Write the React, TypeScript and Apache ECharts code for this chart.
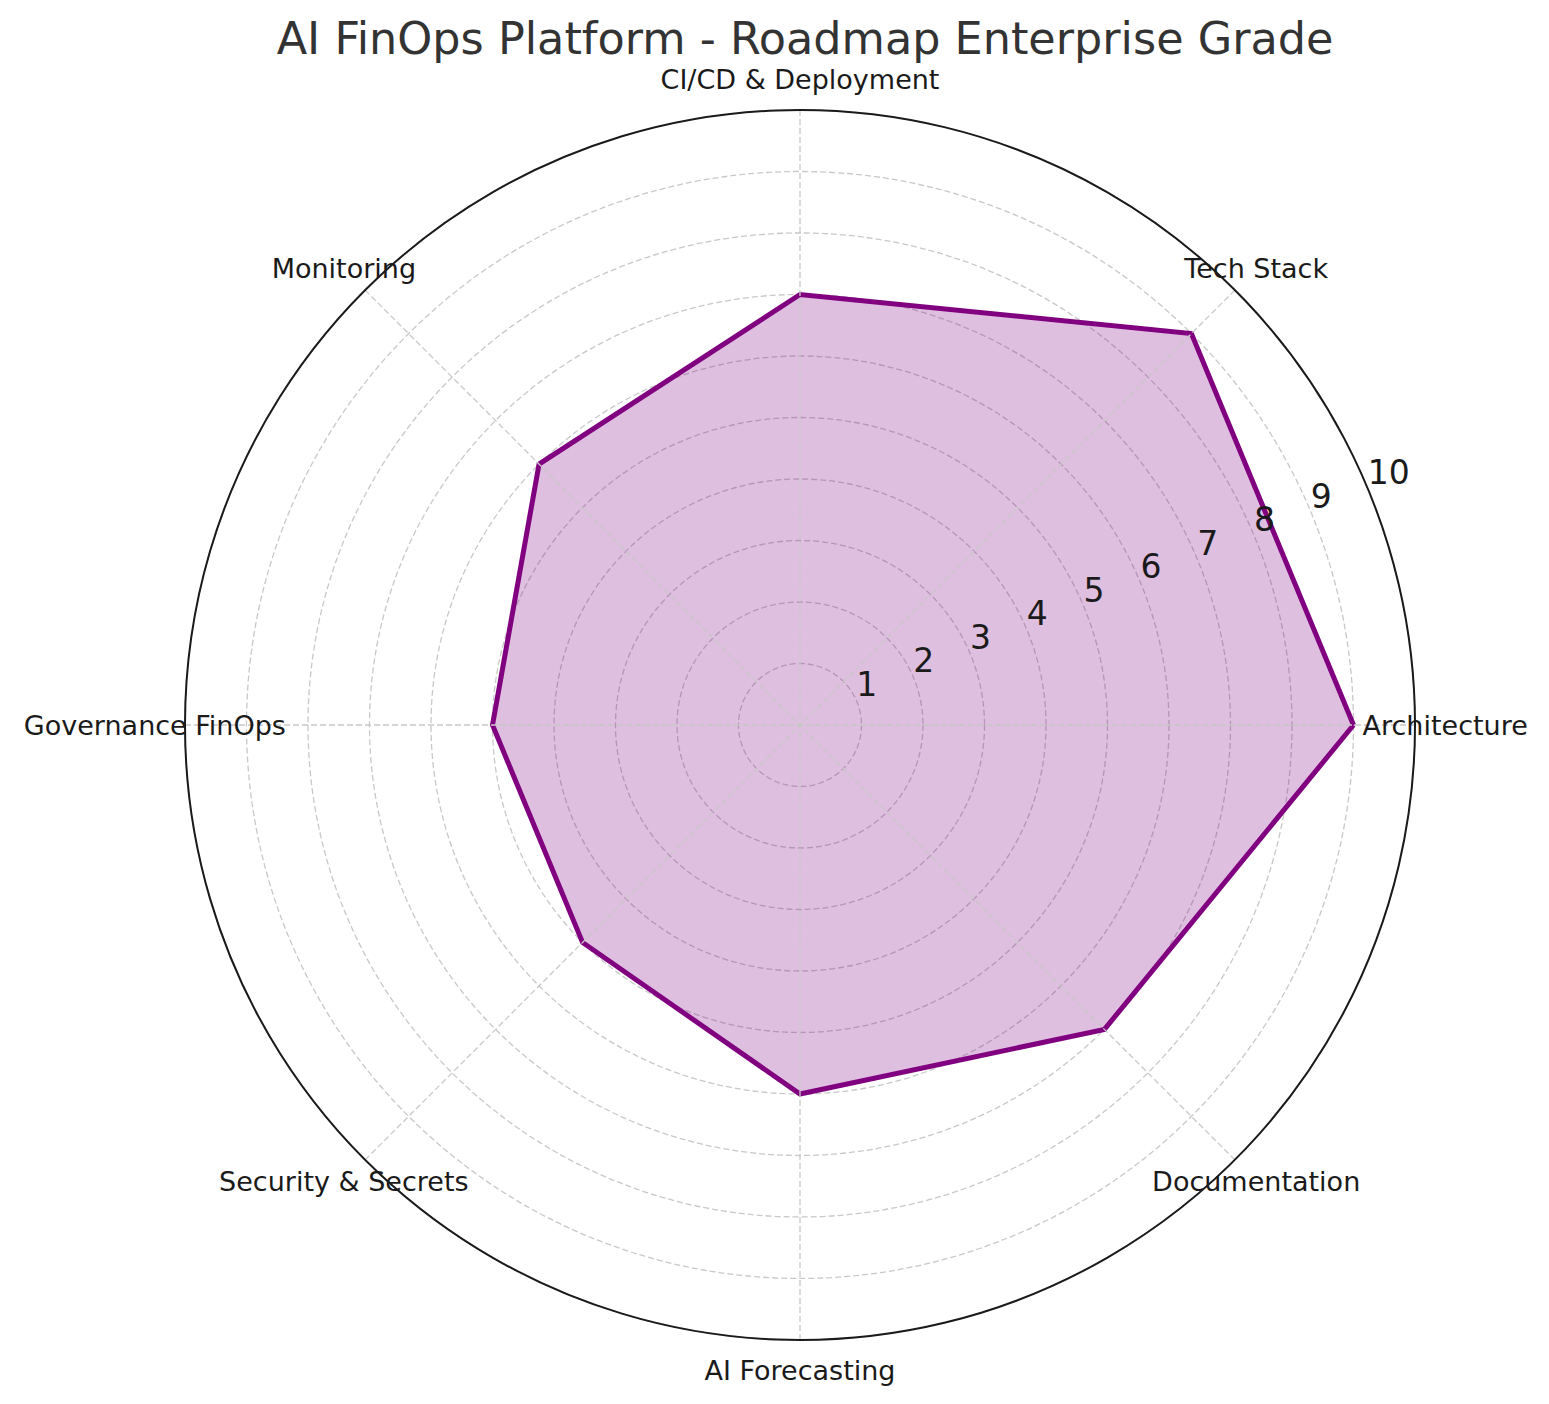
import React, { useEffect, useRef } from 'react';
import * as echarts from 'echarts';

const chartTitle = 'AI FinOps Platform - Roadmap Enterprise Grade';
const categories = [
  'Architecture',
  'Tech Stack',
  'CI/CD & Deployment',
  'Monitoring',
  'Governance FinOps',
  'Security & Secrets',
  'AI Forecasting',
  'Documentation',
];
const scores = [9, 9, 7, 6, 5, 5, 6, 7];
const angles = [0, 45, 90, 135, 180, 225, 270, 315];
const radiusTicks = [1, 2, 3, 4, 5, 6, 7, 8, 9, 10];
const tickLabelAngle = 22.5;
const categoryLabelRadius = 10.49;

export default function App() {
  const ref = useRef<HTMLDivElement>(null);

  useEffect(() => {
    if (!ref.current) return;
    const chart = echarts.init(ref.current, null, { renderer: 'svg' });

    const lineData = categories.map((_, i) => [scores[i], angles[i]]);
    lineData.push([scores[0], 360]);

    const gridLine = { color: '#c8c8c8', type: [6, 3] as any, width: 1.3 };

    chart.setOption({
      animation: false,
      backgroundColor: '#ffffff',
      textStyle: { fontFamily: 'DejaVu Sans' },
      title: {
        text: chartTitle,
        left: 800,
        textAlign: 'center',
        top: 11,
        textStyle: {
          fontFamily: 'DejaVu Sans',
          fontSize: 44.5,
          fontWeight: 'normal',
          color: '#333333',
        },
      },
      polar: {
        center: [800, 725],
        radius: 615,
      },
      angleAxis: {
        type: 'value',
        min: 0,
        max: 360,
        interval: 45,
        startAngle: 0,
        clockwise: false,
        axisLine: { show: true, lineStyle: { color: '#1a1a1a', width: 2 } },
        axisTick: { show: false },
        axisLabel: { show: false },
        splitLine: { show: true, lineStyle: gridLine },
        z: 5,
      },
      radiusAxis: {
        type: 'value',
        min: 0,
        max: 10,
        interval: 1,
        axisLine: { show: false },
        axisTick: { show: false },
        axisLabel: { show: false },
        splitLine: { show: true, lineStyle: gridLine },
      },
      series: [
        {
          type: 'line',
          coordinateSystem: 'polar',
          data: lineData,
          symbol: 'none',
          lineStyle: { color: '#800080', width: 5, join: 'miter' },
          areaStyle: { color: '#800080', opacity: 0.25, origin: 'start' },
          z: 3,
          silent: true,
        },
        {
          type: 'scatter',
          coordinateSystem: 'polar',
          clip: false,
          symbolSize: 1,
          itemStyle: { color: 'rgba(0,0,0,0)', opacity: 1 },
          data: categories.map((c, i) => ({ name: c, value: [categoryLabelRadius, angles[i]] })),
          label: {
            show: true,
            position: 'inside',
            formatter: '{b}',
            fontFamily: 'DejaVu Sans',
            fontSize: 27,
            color: '#1a1a1a',
            opacity: 1,
            align: 'center',
            verticalAlign: 'middle',
          },
          silent: true,
          z: 6,
        },
        {
          type: 'scatter',
          coordinateSystem: 'polar',
          clip: false,
          symbolSize: 1,
          itemStyle: { color: 'rgba(0,0,0,0)', opacity: 1 },
          data: radiusTicks.map((v) => ({ name: String(v), value: [v, tickLabelAngle] })),
          label: {
            show: true,
            position: [0, 0],
            formatter: '{b}',
            fontFamily: 'DejaVu Sans',
            fontSize: 33,
            color: '#1a1a1a',
            opacity: 1,
            align: 'left',
            verticalAlign: 'bottom',
          },
          silent: true,
          z: 6,
        },
      ],
    });

    return () => chart.dispose();
  }, []);

  return (
    <div
      ref={ref}
      style={{ position: 'absolute', left: 0, top: 0, width: 1549, height: 1404 }}
    />
  );
}
